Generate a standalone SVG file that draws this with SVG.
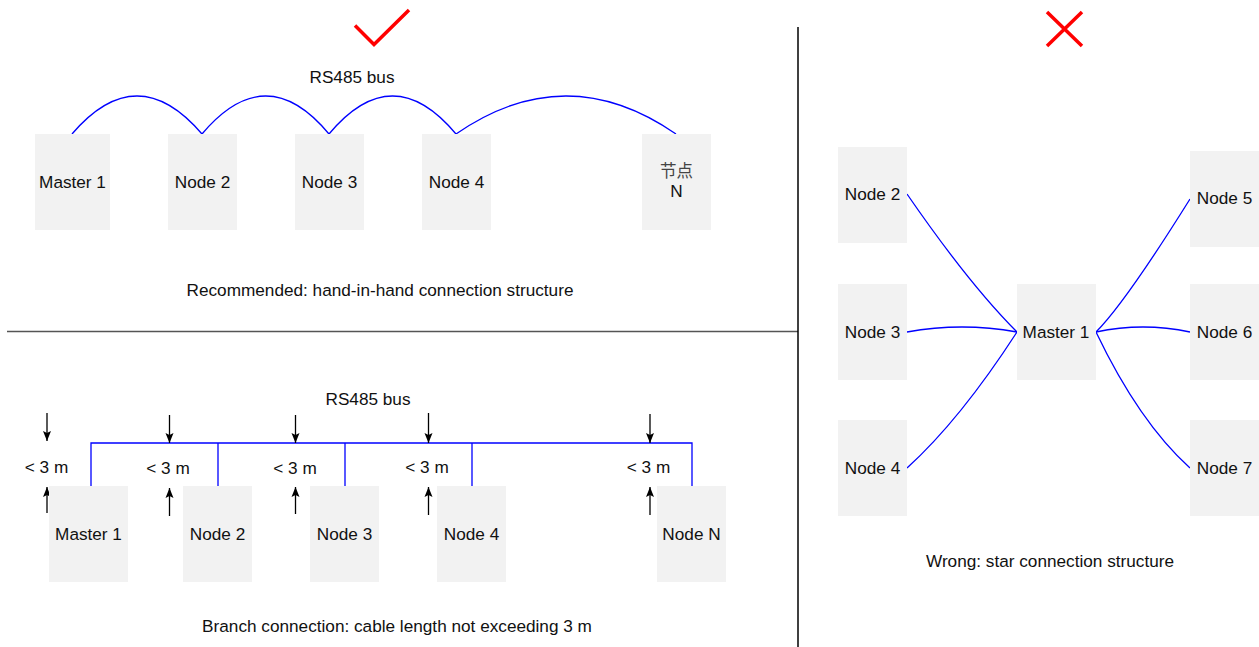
<svg xmlns="http://www.w3.org/2000/svg" width="1259" height="647" viewBox="0 0 1259 647">
<style>
text{font-family:"Liberation Sans",Arial,"Noto Sans CJK SC",sans-serif;font-size:17.2px;fill:#111;text-anchor:middle}
.cjk{fill:#444;font-size:16.5px}
.box{fill:#f2f2f2}
.bus{fill:none;stroke:#0000ff;stroke-width:1.3}
.dim{fill:none;stroke:#000;stroke-width:1.3}
.mark{fill:none;stroke:#ff0000;stroke-width:3.5}
</style>
<defs>
<marker id="ah" markerUnits="userSpaceOnUse" markerWidth="10" markerHeight="10" viewBox="0 0 10 8" refX="10" refY="4" orient="auto">
<path d="M0,0 L10,4 L0,8 L2,4 Z" fill="#000"/>
</marker>
</defs>
<rect width="1259" height="647" fill="#fff"/>

<!-- dividers -->
<g id="dividers">
<line x1="7" y1="331.5" x2="798" y2="331.5" stroke="#555" stroke-width="1.5"/>
<line x1="798" y1="27" x2="798" y2="647" stroke="#000" stroke-width="1.5"/>
</g>

<!-- marks -->
<g id="check"><polyline class="mark" points="355,25.5 374,44.5 409,10"/></g>
<g id="cross"><path class="mark" d="M1047,12 L1082,46 M1082,12 L1047,46"/></g>

<!-- connectors -->
<g id="connectors">
<path class="bus" d="M72,134 Q137,58 202,134 Q266,58 329,134 Q392.5,58 456,134 Q566,58 676,134"/>
<path class="bus" d="M91,486 V443 H692 V486 M218,443 V486 M345,443 V486 M472,443 V486"/>
<path class="bus" d="M907,194 Q969,284 1017,332"/>
<path class="bus" d="M907,332 Q962,322 1017,332"/>
<path class="bus" d="M907,468 Q960,420 1017,332"/>
<path class="bus" d="M1096,332 Q1125,303 1190,199"/>
<path class="bus" d="M1096,332 Q1143,322 1190,332"/>
<path class="bus" d="M1096,332 Q1139,422 1190,468"/>
</g>

<!-- dimension arrows -->
<g id="dimensions">
<line class="dim" x1="47" y1="413" x2="47" y2="441" marker-end="url(#ah)"/>
<line class="dim" x1="47" y1="513" x2="47" y2="487" marker-end="url(#ah)"/>
<line class="dim" x1="169.5" y1="415" x2="169.5" y2="443" marker-end="url(#ah)"/>
<line class="dim" x1="169.5" y1="516" x2="169.5" y2="488" marker-end="url(#ah)"/>
<line class="dim" x1="295.5" y1="415" x2="295.5" y2="443" marker-end="url(#ah)"/>
<line class="dim" x1="295.5" y1="514" x2="295.5" y2="487" marker-end="url(#ah)"/>
<line class="dim" x1="428.5" y1="413" x2="428.5" y2="443" marker-end="url(#ah)"/>
<line class="dim" x1="428.5" y1="515" x2="428.5" y2="487" marker-end="url(#ah)"/>
<line class="dim" x1="650" y1="414" x2="650" y2="443" marker-end="url(#ah)"/>
<line class="dim" x1="650" y1="515" x2="650" y2="487" marker-end="url(#ah)"/>
<text x="46.5" y="472.5">&lt; 3 m</text>
<text x="168" y="474">&lt; 3 m</text>
<text x="295" y="474">&lt; 3 m</text>
<text x="427" y="472.5">&lt; 3 m</text>
<text x="648.5" y="472.5">&lt; 3 m</text>
</g>

<!-- labels -->
<g id="labels">
<text x="352" y="82.5">RS485 bus</text>
<text x="380" y="296">Recommended: hand-in-hand connection structure</text>
<text x="368" y="404.5">RS485 bus</text>
<text x="397" y="631.5">Branch connection: cable length not exceeding 3 m</text>
<text x="1050" y="567">Wrong: star connection structure</text>
</g>

<!-- top row nodes -->
<g id="t-master1"><rect class="box" x="35" y="134" width="75" height="96"/><text x="72.5" y="187.5">Master 1</text></g>
<g id="t-node2"><rect class="box" x="168" y="134" width="69" height="96"/><text x="202.5" y="187.5">Node 2</text></g>
<g id="t-node3"><rect class="box" x="295" y="134" width="69" height="96"/><text x="329.5" y="187.5">Node 3</text></g>
<g id="t-node4"><rect class="box" x="422" y="134" width="69" height="96"/><text x="456.5" y="187.5">Node 4</text></g>
<g id="t-nodeN"><rect class="box" x="642" y="134" width="69" height="96"/><text class="cjk" x="676.5" y="177">节点</text><text x="676.5" y="197">N</text></g>

<!-- bottom row nodes -->
<g id="b-master1"><rect class="box" x="49" y="486" width="79" height="96"/><text x="88.5" y="539.5">Master 1</text></g>
<g id="b-node2"><rect class="box" x="183" y="486" width="69" height="96"/><text x="217.5" y="539.5">Node 2</text></g>
<g id="b-node3"><rect class="box" x="310" y="486" width="69" height="96"/><text x="344.5" y="539.5">Node 3</text></g>
<g id="b-node4"><rect class="box" x="437" y="486" width="69" height="96"/><text x="471.5" y="539.5">Node 4</text></g>
<g id="b-nodeN"><rect class="box" x="657" y="486" width="69" height="96"/><text x="691.5" y="539.5">Node N</text></g>

<!-- star nodes -->
<g id="s-node2"><rect class="box" x="838" y="147" width="69" height="96"/><text x="872.5" y="200">Node 2</text></g>
<g id="s-node3"><rect class="box" x="838" y="284" width="69" height="96"/><text x="872.5" y="337.5">Node 3</text></g>
<g id="s-node4"><rect class="box" x="838" y="420" width="69" height="96"/><text x="872.5" y="474">Node 4</text></g>
<g id="s-master1"><rect class="box" x="1017" y="284" width="79" height="96"/><text x="1056" y="337.5">Master 1</text></g>
<g id="s-node5"><rect class="box" x="1190" y="151" width="69" height="96"/><text x="1224.5" y="204">Node 5</text></g>
<g id="s-node6"><rect class="box" x="1190" y="284" width="69" height="96"/><text x="1224.5" y="337.5">Node 6</text></g>
<g id="s-node7"><rect class="box" x="1190" y="420" width="69" height="96"/><text x="1224.5" y="474">Node 7</text></g>
</svg>
